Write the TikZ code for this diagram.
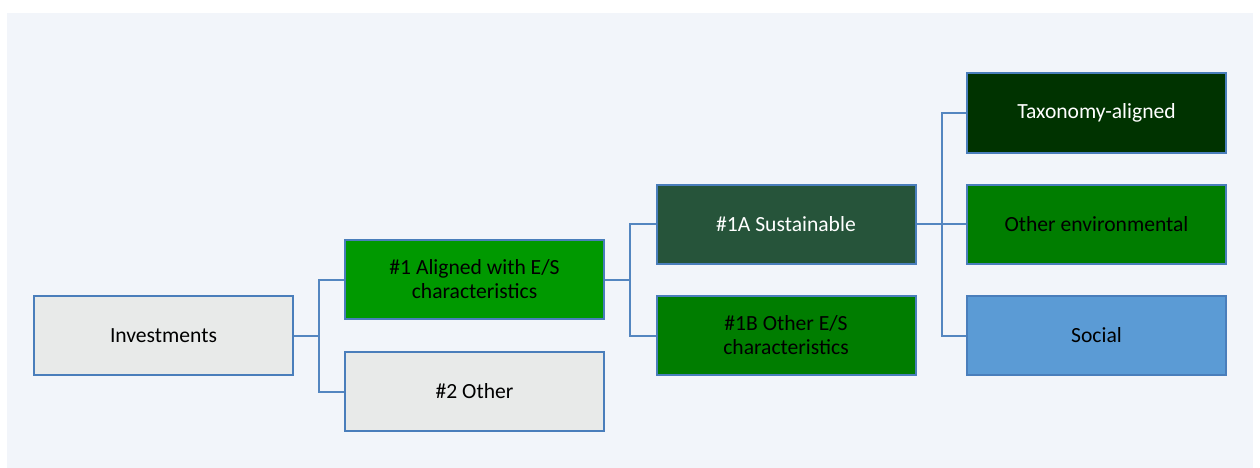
\documentclass[tikz,border=0pt]{standalone}
\usepackage{fontspec}
\setmainfont{Carlito}
\usetikzlibrary{positioning}
\definecolor{panel}{RGB}{242,245,250}
\definecolor{edge}{RGB}{74,126,187}
\definecolor{link}{RGB}{84,134,192}
\definecolor{greybox}{RGB}{232,234,233}
\definecolor{alignedgreen}{RGB}{0,153,0}
\definecolor{sustgreen}{RGB}{38,84,58}
\definecolor{othergreen}{RGB}{0,125,0}
\definecolor{taxgreen}{RGB}{0,51,0}
\definecolor{socialblue}{RGB}{91,155,213}

\begin{document}
\begin{tikzpicture}[line cap=butt,line join=miter,x=1pt,y=-1pt,
  box/.style={draw=edge,line width=2pt,minimum width=259pt,minimum height=79pt,
    inner sep=2pt,align=center,font=\fontsize{21.6}{24}\selectfont},
  conn/.style={draw=link,line width=2pt}]
%hintergrund
\fill[white] (0,0) rectangle (1260,468);
\fill[panel] (7,13) rectangle (1253,468);
\useasboundingbox (0,0) rectangle (1260,468);

%kasten
\node[box,fill=greybox] (inv) at (163.5,335.5) {Investments};
\node[box,fill=alignedgreen] (es) at (474.5,279.5) {\#1 Aligned with E/S\\characteristics};
\node[box,fill=greybox] (oth) at (474.5,391.5) {\#2 Other};
\node[box,fill=sustgreen,text=white] (sust) at (786,224) {\#1A Sustainable};
\node[box,fill=othergreen] (ones) at (786,335.5) {\#1B Other E/S\\characteristics};
\node[box,fill=taxgreen,text=white] (tax) at (1096.5,113) {Taxonomy-aligned};
\node[box,fill=othergreen] (env) at (1096.5,224) {Other environmental};
\node[box,fill=socialblue] (soc) at (1096.5,335.5) {Social};

%verbindungen
\coordinate (j1) at (318.5,335.5);
\coordinate (j2) at (630,279.5);
\coordinate (j3) at (942,224);
\draw[conn] (inv.east) -- (j1);
\foreach \t in {es,oth}
{\draw[conn] (j1) |- (\t.west);}
\draw[conn] (es.east) -- (j2);
\foreach \t in {sust,ones}
{\draw[conn] (j2) |- (\t.west);}
\draw[conn] (sust.east) -- (j3);
\foreach \t in {tax,env,soc}
{\draw[conn] (j3) |- (\t.west);}
\end{tikzpicture}
\end{document}
